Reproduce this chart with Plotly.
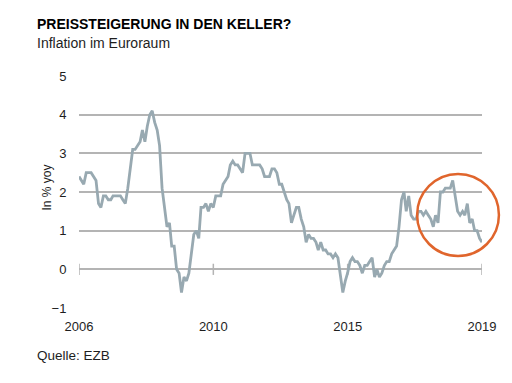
import pandas as pd
import plotly.graph_objects as go

# Euro area inflation, monthly, Jan 2006 - Oct 2019 (% yoy)
infl_2006 = [2.4, 2.3, 2.2, 2.5, 2.5, 2.5, 2.4, 2.3, 1.7, 1.6, 1.9, 1.9]
infl_2007 = [1.8, 1.8, 1.9, 1.9, 1.9, 1.9, 1.8, 1.7, 2.1, 2.6, 3.1, 3.1]
infl_2008 = [3.2, 3.3, 3.6, 3.3, 3.7, 4.0, 4.1, 3.8, 3.6, 3.2, 2.1, 1.6]
infl_2009 = [1.1, 1.2, 0.6, 0.6, 0.0, -0.1, -0.6, -0.2, -0.3, -0.1, 0.5, 0.9]
infl_2010 = [1.0, 0.8, 1.6, 1.6, 1.7, 1.5, 1.7, 1.6, 1.9, 1.9, 1.9, 2.2]
infl_2011 = [2.3, 2.4, 2.7, 2.8, 2.7, 2.7, 2.6, 2.5, 3.0, 3.0, 3.0, 2.7]
infl_2012 = [2.7, 2.7, 2.7, 2.6, 2.4, 2.4, 2.4, 2.6, 2.6, 2.5, 2.2, 2.2]
infl_2013 = [2.0, 1.8, 1.7, 1.2, 1.4, 1.6, 1.6, 1.3, 1.1, 0.7, 0.9, 0.8]
infl_2014 = [0.8, 0.7, 0.5, 0.7, 0.5, 0.5, 0.4, 0.4, 0.3, 0.4, 0.3, -0.2]
infl_2015 = [-0.6, -0.3, -0.1, 0.2, 0.3, 0.2, 0.2, 0.1, -0.1, 0.1, 0.1, 0.2]
infl_2016 = [0.3, -0.2, 0.0, -0.2, -0.1, 0.1, 0.2, 0.2, 0.4, 0.5, 0.6, 1.1]
infl_2017 = [1.8, 2.0, 1.5, 1.9, 1.4, 1.3, 1.3, 1.5, 1.5, 1.4, 1.5, 1.4]
infl_2018 = [1.3, 1.1, 1.4, 1.2, 2.0, 2.0, 2.1, 2.1, 2.1, 2.3, 1.9, 1.5]
infl_2019 = [1.4, 1.5, 1.4, 1.7, 1.2, 1.3, 1.0, 1.0, 0.8, 0.7]

values = (infl_2006 + infl_2007 + infl_2008 + infl_2009 + infl_2010 + infl_2011
          + infl_2012 + infl_2013 + infl_2014 + infl_2015 + infl_2016 + infl_2017
          + infl_2018 + infl_2019)
dates = pd.date_range("2006-01-01", periods=len(values), freq="MS")

tick_labels = ["2006", "2010", "2015", "2019"]
y_ticks = [-1, 0, 1, 2, 3, 4, 5]

start, end = dates[0], dates[-1]
tick_dates = [start + (end - start) * (i / 3) for i in range(4)]

LINE = "#98a9b1"
GRID = "#b4b4b4"
ORANGE = "#e0652c"
TXT = "#1e1e1e"
FONT = "Liberation Sans, Arial, sans-serif"

fig = go.Figure()
fig.add_trace(go.Scatter(
    x=tick_dates, y=[0] * 4, mode="markers",
    marker=dict(symbol="line-ns", size=8, line=dict(color=GRID, width=1.5)),
    hoverinfo="skip", showlegend=False))
fig.add_trace(go.Scatter(
    x=dates, y=values, mode="lines",
    line=dict(color=LINE, width=2.8), showlegend=False))

# highlight circle around the recent period (may extend beyond plot area)
fig.add_shape(type="circle", xref="paper", yref="paper",
              x0=0.839, x1=1.042, y0=0.224, y1=0.578,
              line=dict(color=ORANGE, width=2.5), layer="above")

fig.update_layout(
    width=512, height=383,
    margin=dict(l=71, r=38, t=68, b=83),
    paper_bgcolor="white", plot_bgcolor="white",
    font=dict(family=FONT, size=13, color=TXT),
    xaxis=dict(range=[start, end], tickvals=tick_dates, ticktext=tick_labels,
               showgrid=False, zeroline=False, showline=False,
               ticks="outside", ticklen=6, tickcolor="rgba(0,0,0,0)",
               tickfont=dict(size=13, color=TXT)),
    yaxis=dict(range=[-1, 5], tickvals=y_ticks, showgrid=True,
               gridcolor=GRID, gridwidth=1.5, zeroline=False, showline=False,
               ticks="outside", ticklen=9, tickcolor="rgba(0,0,0,0)",
               tickfont=dict(size=13, color=TXT)),
    annotations=[
        dict(text="<b>PREISSTEIGERUNG IN DEN KELLER?</b>", xref="paper", yref="paper",
             x=-0.109, y=1.224, xanchor="left", yanchor="middle", showarrow=False,
             font=dict(size=14, color="#000")),
        dict(text="Inflation im Euroraum", xref="paper", yref="paper",
             x=-0.109, y=1.142, xanchor="left", yanchor="middle", showarrow=False,
             font=dict(size=14, color=TXT)),
        dict(text="In % yoy", xref="paper", yref="paper", textangle=-90,
             x=-0.079, y=0.52, xanchor="center", yanchor="middle", showarrow=False,
             font=dict(size=12, color=TXT)),
        dict(text="Quelle: EZB", xref="paper", yref="paper",
             x=-0.109, y=-0.203, xanchor="left", yanchor="middle", showarrow=False,
             font=dict(size=13.5, color=TXT)),
    ],
)

fig.write_html("out.html")
